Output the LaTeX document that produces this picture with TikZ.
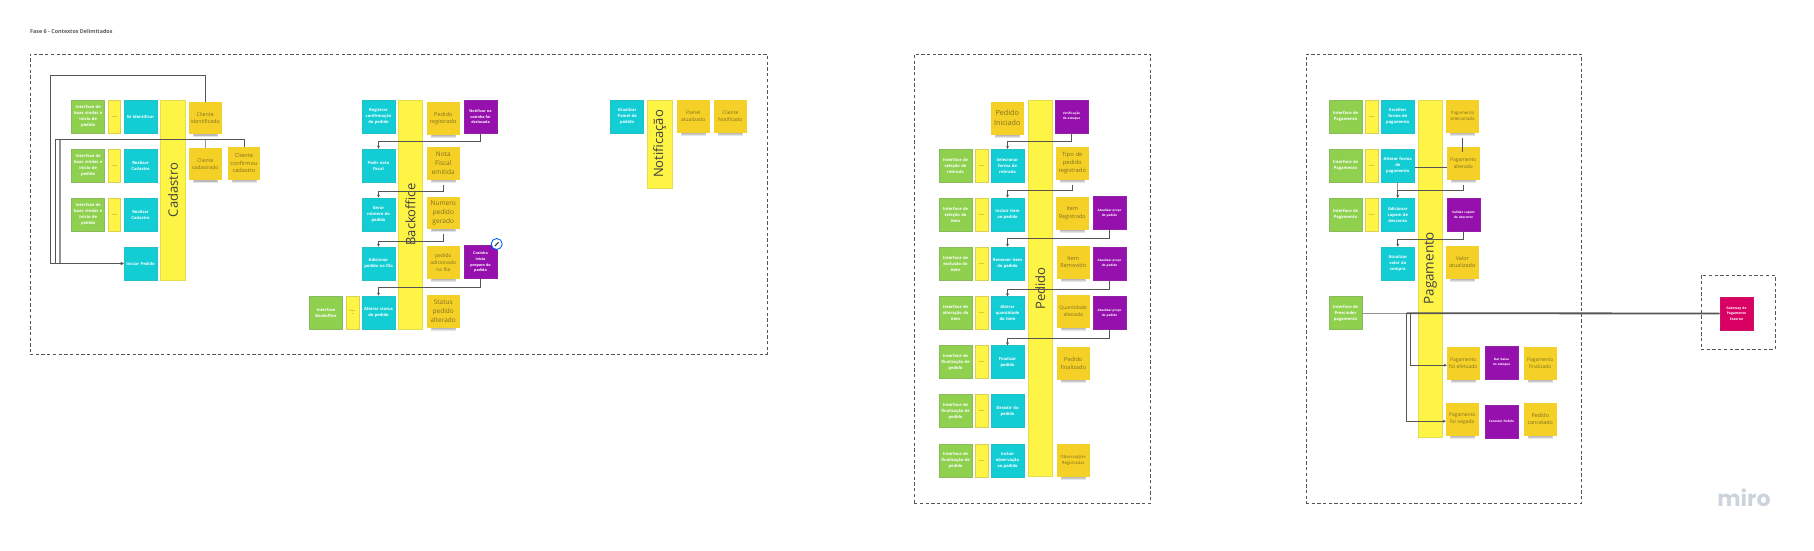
\documentclass[tikz,border=0pt]{standalone}
\usepackage{fontspec}
\setmainfont{Open Sans}
\newfontfamily\logofont{Poppins}
\usetikzlibrary{arrows.meta}
\definecolor{cgreen}{HTML}{8FD14F}
\definecolor{ccyan}{HTML}{12CDD4}
\definecolor{cyel}{HTML}{FEF445}
\definecolor{csticky}{HTML}{F5D128}
\definecolor{cpurple}{HTML}{9510AC}
\definecolor{cred}{HTML}{DA0063}
\definecolor{cink}{HTML}{7F6F1E}
\definecolor{cline}{HTML}{555555}
\definecolor{clogo}{HTML}{CBD3DC}
\tikzset{
  boxbase/.style={inner sep=0pt, minimum width=33pt, minimum height=33pt, text width=30pt, align=center, text=white, line width=.7pt,
     font=\fontsize{4.1}{6}\selectfont\bfseries},
  gbox/.style={boxbase, fill=cgreen, draw=cgreen!70!gray},
  cbox/.style={boxbase, fill=ccyan, draw=ccyan!85!gray},
  pbox/.style={boxbase, fill=cpurple, draw=cpurple!85!gray, font=\fontsize{3.1}{5}\selectfont\bfseries},
  rbox/.style={boxbase, fill=cred, draw=cred!85!gray, font=\fontsize{3.4}{5.5}\selectfont\bfseries},
  smally/.style={inner sep=0pt, minimum width=12.7pt, minimum height=33pt, fill=cyel, draw=cyel!70!gray, line width=.7pt, text=cink, align=center, font=\fontsize{1.8}{3}\selectfont},
  barbox/.style={inner sep=0pt, rotate=90, minimum height=24.4pt, fill=cyel, draw=cyel!80!gray, line width=.7pt, text=black!75, font=\fontsize{13}{15}\selectfont},
  stick/.style={inner sep=0pt, minimum width=32.5pt, minimum height=32.5pt, text width=31pt, align=center, fill=csticky, text=cink},
  stickshade/.style={fill=black, opacity=.1},
  frameline/.style={draw=cline, line width=.8pt, dash pattern=on 3.3pt off 2.4pt},
  conn/.style={draw=cline, line width=.9pt, -{Stealth[length=3pt,width=3pt]}},
  plain/.style={draw=cline, line width=.9pt},
  connthick/.style={draw=gray!85, line width=1.3pt},
  mainline/.style={draw=cline, line width=1.8pt}
}
\newcommand{\bx}[5]{\node[#1] (#2) at ({#3+16.5},{#4+16.5}) {#5};}
\newcommand{\sy}[3]{\node[smally] (#1) at ({#2+6.35},{#3+16.5}) {cliente};}
\newcommand{\stk}[6]{%
  \fill[stickshade] ({#2+4},{#3+31}) rectangle ({#2+29},{#3+35.5});
  \fill[stickshade] ({#2+4},{#3+31}) rectangle ({#2+29},{#3+34.6});
  \fill[stickshade] ({#2+5},{#3+31}) rectangle ({#2+28},{#3+34});
  \node[stick, font=\fontsize{#4}{#5}\selectfont] (#1) at ({#2+16.25},{#3+16.25}) {#6};}
\newcommand{\iface}{Interface de\\boas vindas e\\inicio de\\pedido}
\newcommand{\preco}{Atualizar preço do pedido}
\begin{document}
\begin{tikzpicture}[x=1pt,y=-1pt]
\useasboundingbox (0,0) rectangle (1814,551);
\node[anchor=west, inner sep=0pt, text=black!65, font=\fontsize{5.4}{7}\selectfont\bfseries] (title) at (30,31.7) {Fase 6 - Contextos Delimitados};
% frames
\node[frameline, inner sep=0pt, minimum width=737pt, minimum height=300pt] (f1) at (398.5,204) {};
\node[frameline, inner sep=0pt, minimum width=236.7pt, minimum height=449pt] (f2) at (1032.5,278.5) {};
\node[frameline, inner sep=0pt, minimum width=275.7pt, minimum height=449pt] (f3) at (1443.8,278.5) {};
\node[frameline, inner sep=0pt, minimum width=74pt, minimum height=74pt] (f4) at (1738,312) {};
% Cadastro
\bx{gbox}{ga1}{71.7}{100}{\iface}
\bx{gbox}{ga2}{71.7}{149}{\iface}
\bx{gbox}{ga3}{71.7}{198}{\iface}
\sy{ya1}{108}{100}\sy{ya2}{108}{149}\sy{ya3}{108}{198}
\bx{cbox}{ca1}{124}{100}{Se Identificar}
\bx{cbox}{ca2}{124}{149}{Realizar\\Cadastro}
\bx{cbox}{ca3}{124}{198}{Realizar\\Cadastro}
\bx{cbox}{ip}{124}{247}{Iniciar Pedido}
\node[barbox, minimum width=180pt] (barC) at (173,190) {Cadastro};
\stk{ci}{189}{101.7}{5.3}{7}{Cliente identificado}
\stk{cc}{189}{147.7}{5.1}{6.5}{Cliente cadastrado}
\stk{cf}{227.7}{147}{5.6}{7.5}{Cliente confirmou cadastro}
% Backoffice
\bx{cbox}{cb1}{362}{100}{Registrar\\confirmação\\do pedido}
\bx{cbox}{cb2}{362}{149}{Pedir nota\\fiscal}
\bx{cbox}{cb3}{362}{198}{Gerar\\número do\\pedido}
\bx{cbox}{cb4}{362}{247}{Adicionar\\pedido na fila}
\bx{cbox}{cb5}{362}{296}{Alterar status\\do pedido}
\node[barbox, minimum width=229pt] (barB) at (410.5,214.5) {Backoffice};
\stk{sb1}{427}{102}{5.6}{7}{Pedido registrado}
\stk{sb2}{427}{147}{6.5}{9}{Nota Fiscal emitida}
\stk{sb3}{427}{196.7}{6.6}{9}{Numero pedido gerado}
\stk{sb4}{427}{246}{5}{7}{pedido adicionado na fila}
\stk{sb5}{427}{295}{6.5}{9}{Status pedido alterado}
\bx{pbox}{pb1}{464}{100}{\fontsize{3.7}{6}\selectfont Notificar na\\cozinha foi\\deslocada}
\bx{pbox}{pb2}{464}{245.7}{\fontsize{3.7}{6}\selectfont Cozinha\\inicia\\preparo do\\pedido}
\node[circle, draw=blue!60!cyan, fill=white, line width=.9pt, inner sep=0pt, minimum size=11pt] (icon) at (496.7,244) {};
\draw[line width=1.1pt, black!80] (495,246) -- (498.6,242.2);
\bx{gbox}{gb5}{309.5}{296}{Interface\\Backoffice}
\node[smally] (yb5) at (352.5,312.5) {Empre\\sa};
% Notificacao
\bx{cbox}{cn1}{610.7}{100}{Atualizar\\Painel de\\pedido}
\node[barbox, minimum width=88pt] (barN) at (659.7,144) {Notificação};
\stk{sn1}{677}{100}{5}{6.5}{Painel atualizado}
\stk{sn2}{714}{100}{5}{6.5}{Cliente Notificado}
% Pedido
\bx{gbox}{gp1}{939}{149}{Interface de\\seleção de\\retirada}
\bx{gbox}{gp2}{939}{198}{Interface de\\seleção do\\item}
\bx{gbox}{gp3}{939}{247}{Interface de\\exclusão do\\item}
\bx{gbox}{gp4}{939}{296}{Interface de\\alteração do\\item}
\bx{gbox}{gp5}{939}{345.7}{Interface de\\finalização de\\pedido}
\bx{gbox}{gp6}{939}{394.7}{Interface de\\finalização de\\pedido}
\bx{gbox}{gp7}{939}{444}{Interface de\\finalização de\\pedido}
\sy{yp1}{975.3}{149}\sy{yp2}{975.3}{198}\sy{yp3}{975.3}{247}\sy{yp4}{975.3}{296}\sy{yp5}{975.3}{345.7}\sy{yp6}{975.3}{394.7}\sy{yp7}{975.3}{444}
\bx{cbox}{cp1}{991}{149.3}{Selecionar\\forma de\\retirada}
\bx{cbox}{cp2}{991}{198}{Incluir item\\ao pedido}
\bx{cbox}{cp3}{991}{247}{Remover item\\do pedido}
\bx{cbox}{cp4}{991}{296.7}{Alterar\\quantidade\\do item}
\bx{cbox}{cp5}{991}{345.7}{Finalizar\\pedido}
\bx{cbox}{cp6}{991}{394.7}{Desistir do\\pedido}
\bx{cbox}{cp7}{991}{444}{Incluir\\observação\\ao pedido}
\node[barbox, minimum width=376.7pt] (barP) at (1040.2,288.3) {Pedido};
\stk{sp0}{991}{102}{7.2}{10}{Pedido Iniciado}
\stk{sp1}{1056}{147}{5.8}{8}{Tipo de pedido registrado}
\stk{sp2}{1056}{197}{5.4}{7.5}{Item Registrado}
\stk{sp3}{1057}{246}{5.5}{7.5}{Item Removido}
\stk{sp4}{1057}{295}{5}{7.5}{Quantidade alterada}
\stk{sp5}{1057}{347}{5.6}{8}{Pedido finalizado}
\stk{sp6}{1057}{444}{4.2}{6}{Observações Registradas}
\bx{pbox}{pp0}{1055}{100}{Verificação de estoque}
\bx{pbox}{pp1}{1093}{196.7}{\preco}
\bx{pbox}{pp2}{1093}{247}{\preco}
\bx{pbox}{pp3}{1093}{296.7}{\preco}
% Pagamento
\bx{gbox}{gg1}{1329}{100}{Interface de\\Pagamento}
\bx{gbox}{gg2}{1329}{149}{Interface de\\Pagamento}
\bx{gbox}{gg3}{1329}{198}{Interface de\\Pagamento}
\bx{gbox}{gg4}{1329}{296.7}{Interface de\\Prescinder\\pagamento}
\sy{yg1}{1365.3}{100}\sy{yg2}{1365.3}{149}\sy{yg3}{1365.3}{198}
\bx{cbox}{cg1}{1381.3}{100}{Escolher\\forma de\\pagamento}
\bx{cbox}{cg2}{1381.3}{149}{Alterar forma\\de\\pagamento}
\bx{cbox}{cg3}{1381.3}{198}{Adicionar\\cupom de\\desconto}
\bx{cbox}{cg4}{1381.3}{247}{Atualizar\\valor da\\compra}
\node[barbox, minimum width=337.3pt] (barG) at (1430.5,268.6) {\fontsize{13.5}{15}\selectfont Pagamento};
\stk{sg1}{1446.3}{100}{4.4}{6}{Pagamento selecionado}
\stk{sg2}{1447}{147}{4.9}{6.5}{Pagamento alterado}
\stk{sg3}{1446}{246}{5.4}{7}{Valor atualizado}
\stk{sg4}{1447}{347}{4.9}{7}{Pagamento foi efetuado}
\stk{sg5}{1524}{347}{4.9}{6.5}{Pagamento finalizado}
\stk{sg6}{1446}{403}{4.9}{7}{Pagamento foi negado}
\stk{sg7}{1524}{403}{5.4}{7}{Pedido cancelado}
\bx{pbox}{pg1}{1447}{198}{Validar cupom de desconto}
\bx{pbox}{pg2}{1485}{346}{Dar baixa no estoque}
\bx{pbox}{pg3}{1485}{405}{Cancelar Pedido}
\bx{rbox}{gw}{1720}{297}{Gateway de Pagamento Externo}
% miro logo
\node[inner sep=0pt, text=clogo, font=\fontsize{22}{24}\selectfont\logofont\bfseries] (logo) at (1744,498) {miro};
% helper corners
\coordinate (t1) at (50.7,75);
\coordinate (t2) at (55,139.3);
\coordinate (t3) at (60,139.3);
\coordinate (j1) at (1410.7,313.2);
\coordinate (j2) at (1406.7,313.2);
% Cadastro connectors
\draw[connthick,-{Stealth[length=3pt,width=3pt]}] (cc.north) |- (t3) |- (ip.west);
\draw[conn] (ci.north) |- (t1) |- (ip.west);
\draw[conn] (cf.north) |- (t2) |- (ip.west);
% Backoffice connectors
\draw[conn] (pb1.south) -- ++(0,8) -| (cb2.north);
\draw[conn] ([yshift=-5pt]sb2.south) -- ++(0,7) -| (cb3.north);
\draw[conn] ([yshift=-5pt]sb3.south) -- ++(0,7) -| (cb4.north);
\draw[conn] (pb2.south) -- ++(0,8.5) -| (cb5.north);
% Pedido connectors
\draw[conn] (pp0.south) -- ++(0,7.7) -| (cp1.north);
\draw[conn] ([yshift=-5pt]sp1.south) -- ++(0,6) -| (cp2.north);
\draw[conn] (pp1.south) -- ++(0,8.5) -| (cp3.north);
\draw[conn] (pp2.south) -- ++(0,8.7) -| (cp4.north);
\draw[conn] (pp3.south) -- ++(0,8) -| (cp5.north);
% Pagamento connectors
\draw[plain] ([yshift=-5pt]sg1.south) -- ([yshift=-5pt]sg1.south |- sg2.north);
\draw[plain] ([yshift=-1.5pt]cg2.east) -- ([yshift=-1.5pt]cg2.east -| sg2.west);
\draw[connthick] (cg2.south) -- (cg3.north);
\draw[conn] ([yshift=-5pt]sg2.south) -- ++(0,6) -| (cg3.north);
\draw[conn] (pg1.south) -- ++(0,8) -| (cg4.north);
\draw[connthick] (gg4.east) -- (j2);
\draw[mainline] (j2) -- (gw.west);
\draw[conn] (j1) |- ([yshift=-2pt]sg4.west);
\draw[conn] (j2) |- ([yshift=-2pt]sg6.west);
\end{tikzpicture}
\end{document}
